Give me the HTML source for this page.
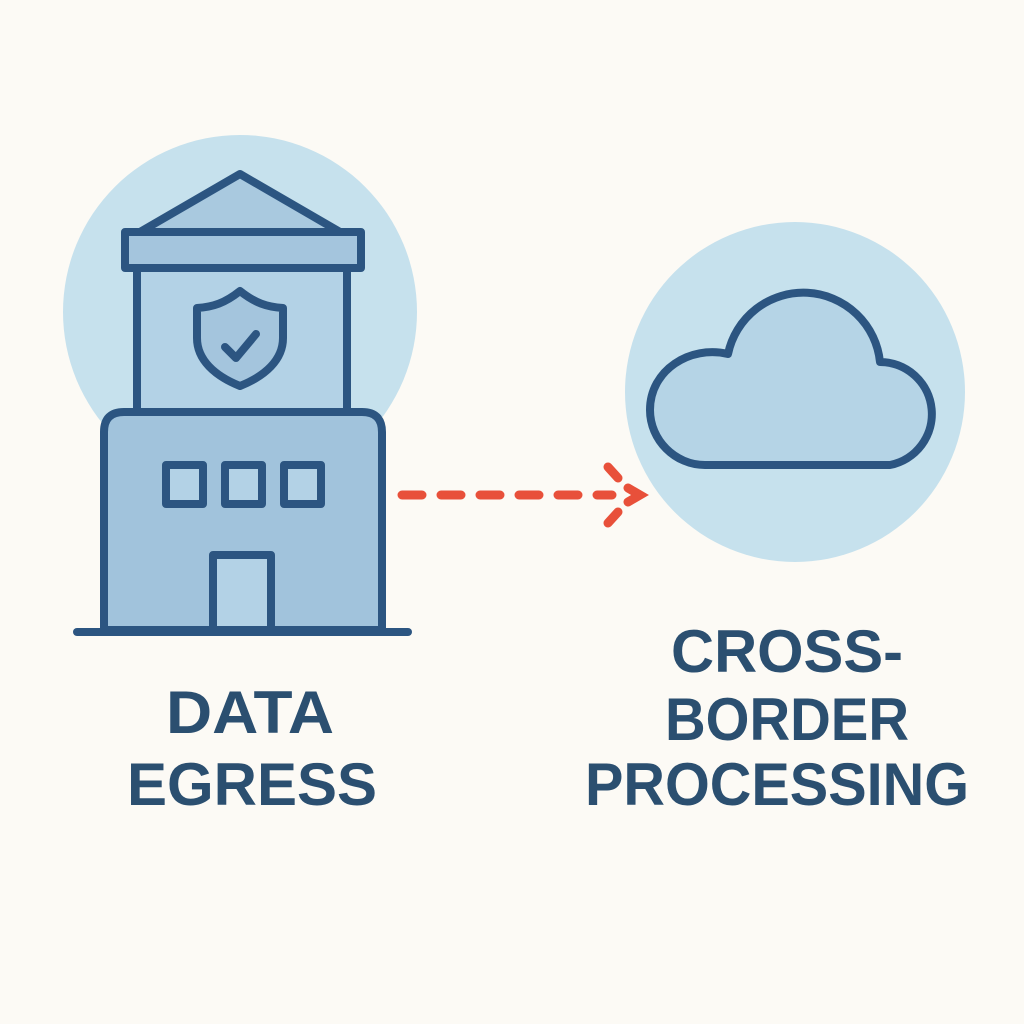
<!DOCTYPE html>
<html><head><meta charset="utf-8"><style>
html,body{margin:0;padding:0;background:#fcfaf5;}
svg{display:block}
text{font-family:"Liberation Sans",Arial,sans-serif;font-weight:bold;fill:#2b4f70;}
</style></head><body>
<svg width="1024" height="1024" viewBox="0 0 1024 1024">
<rect width="1024" height="1024" fill="#fcfaf5"/>
<circle cx="240" cy="312" r="177" fill="#c6e1ed"/>
<circle cx="795" cy="392" r="170" fill="#c6e1ed"/>
<g stroke="#2c5581" stroke-width="8" stroke-linejoin="round" stroke-linecap="round">
<polygon points="240,174 140,232 340,232" fill="#a9c9df"/>
<rect x="125" y="232" width="236" height="36" fill="#a4c5dd"/>
<rect x="137" y="268" width="210" height="144" fill="#b3d2e6"/>
<path d="M240,291 C225,303 213,307 197,308 L197,338 C197,360 215,376 240,386 C265,376 283,360 283,338 L283,308 C267,307 255,303 240,291 Z" fill="#a4c5dd"/>
<path d="M225,347 L236,358 L256,334" fill="none"/>
<path d="M104,630 L104,432 Q104,412 124,412 L362,412 Q382,412 382,432 L382,630 Z" fill="#a1c3dc"/>
<rect x="166" y="465" width="37" height="39" fill="#b3d2e6"/>
<rect x="225" y="465" width="37" height="39" fill="#b3d2e6"/>
<rect x="284" y="465" width="37" height="39" fill="#b3d2e6"/>
<rect x="213" y="555" width="58" height="75" fill="#b3d2e6"/>
<line x1="77" y1="632" x2="408" y2="632"/>
<path d="M705,465 H890 A52,52 0 0 0 880,362 A77,77 0 0 0 728,354 C690,345 650,370 650,410 C650,440 675,465 705,465 Z" fill="#b5d4e6"/>
</g>
<g stroke="#e8503a" stroke-width="9" stroke-linecap="round" fill="none">
<path d="M402,495 H612" stroke-dasharray="20,19"/>
<path d="M608,467 L618,478 M608,523 L618,512 M628,488 L640,495 L628,502"/>
</g>
<text x="250" y="733" font-size="60" text-anchor="middle" textLength="168" lengthAdjust="spacingAndGlyphs">DATA</text>
<text x="252" y="805" font-size="60" text-anchor="middle" textLength="250" lengthAdjust="spacingAndGlyphs">EGRESS</text>
<text x="787" y="672" font-size="60" text-anchor="middle" textLength="232" lengthAdjust="spacingAndGlyphs">CROSS-</text>
<text x="787" y="740" font-size="60" text-anchor="middle" textLength="244" lengthAdjust="spacingAndGlyphs">BORDER</text>
<text x="777" y="805" font-size="60" text-anchor="middle" textLength="384" lengthAdjust="spacingAndGlyphs">PROCESSING</text>
</svg>
</body></html>
